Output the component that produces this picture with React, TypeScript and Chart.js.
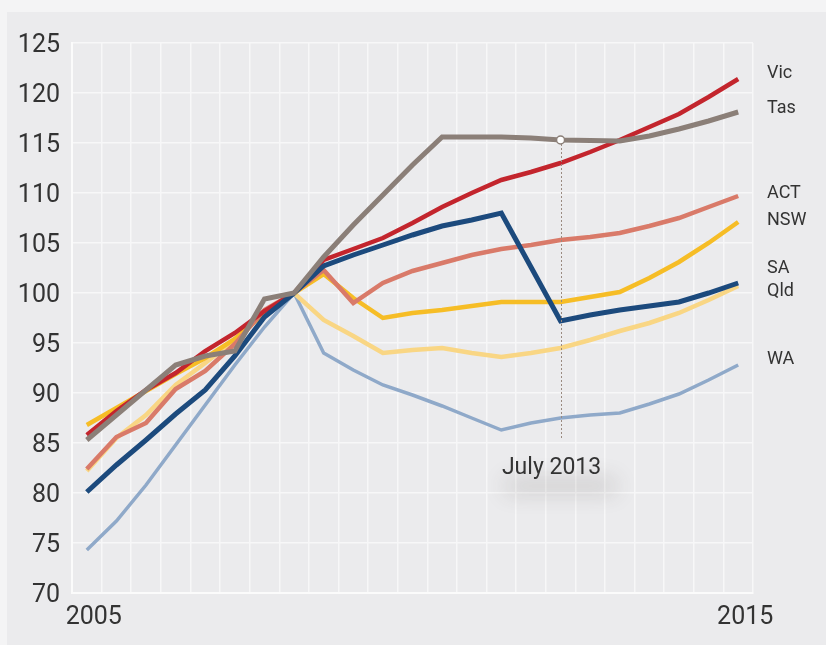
import React, { useEffect, useRef } from 'react';
import { Chart, registerables } from 'chart.js';

Chart.register(...registerables);

// 23 observation periods between 2005 and 2015 (index 16 = July 2013)
const periods = [
  '2005', '', '', '', '', '', '', '', '', '', '', '',
  '', '', '', '', 'July 2013', '', '', '', '', '', '2015',
];
const xTickLabels = ['2005', '2015'];
const yMin = 70;
const yMax = 125;
const yStep = 5;

const vic = [85.8, 88.2, 90.3, 92.0, 94.2, 96.0, 98.2, 100, 103.3, 104.4, 105.5, 107.0, 108.6, 110.0, 111.3, 112.1, 113.0, 114.1, 115.3, 116.6, 117.9, 119.6, 121.4];
const tas = [85.3, 87.8, 90.3, 92.8, 93.7, 94.2, 99.4, 100, 103.6, 106.8, 109.8, 112.8, 115.6, 115.6, 115.6, 115.5, 115.3, 115.25, 115.2, 115.7, 116.4, 117.2, 118.1];
const act = [82.4, 85.6, 87.0, 90.4, 92.2, 94.9, 98.3, 100, 102.3, 99.0, 101.0, 102.2, 103.0, 103.8, 104.4, 104.8, 105.3, 105.6, 106.0, 106.7, 107.5, 108.6, 109.7];
const nsw = [86.8, 88.5, 90.2, 91.9, 93.5, 95.4, 98.0, 100, 101.9, 99.5, 97.5, 98.0, 98.3, 98.7, 99.1, 99.1, 99.1, 99.6, 100.1, 101.5, 103.1, 105.0, 107.1];
const sa = [80.1, 82.8, 85.3, 87.9, 90.3, 93.7, 97.6, 100, 102.7, 103.8, 104.8, 105.8, 106.7, 107.3, 108.0, 102.6, 97.2, 97.8, 98.3, 98.7, 99.1, 100.0, 101.0];
const qld = [82.2, 85.5, 87.8, 90.8, 93.0, 95.3, 98.0, 100, 97.3, 95.7, 94.0, 94.3, 94.5, 94.0, 93.6, 94.0, 94.5, 95.3, 96.2, 97.0, 98.0, 99.3, 100.7];
const wa = [74.3, 77.2, 80.8, 84.8, 88.8, 92.8, 96.6, 100, 94.0, 92.3, 90.8, 89.8, 88.7, 87.5, 86.3, 87.0, 87.5, 87.8, 88.0, 88.9, 89.9, 91.3, 92.8];

const markerIndex = 16;
const markerLabel = 'July 2013';
const markerBottom = 85.3;

const FONT = 'Roboto, "Open Sans", sans-serif';

type S = { label: string; data: number[]; color: string; width: number; order: number; nudge: number };
const series: S[] = [
  { label: 'Vic', data: vic, color: '#c3252d', width: 4.5, order: 2, nudge: -6 },
  { label: 'Tas', data: tas, color: '#8b7f78', width: 5, order: 0, nudge: -4 },
  { label: 'ACT', data: act, color: '#d97a69', width: 4.5, order: 3, nudge: -3 },
  { label: 'NSW', data: nsw, color: '#f6bd26', width: 4.5, order: 4, nudge: -2 },
  { label: 'SA', data: sa, color: '#1c4a7d', width: 5, order: 1, nudge: -15 },
  { label: 'Qld', data: qld, color: '#f9d684', width: 4.5, order: 5, nudge: 5 },
  { label: 'WA', data: wa, color: '#8fa9c9', width: 3.5, order: 6, nudge: -6 },
];

const overlay = {
  id: 'overlay',
  afterDatasetsDraw(chart: any) {
    const { ctx, scales } = chart;
    const x = scales.x;
    const y = scales.y;
    ctx.save();
    // marker
    const mx = x.getPixelForValue(markerIndex);
    const my = y.getPixelForValue(tas[markerIndex]);
    const mb = y.getPixelForValue(markerBottom);
    ctx.strokeStyle = '#9a8a80';
    ctx.lineWidth = 1;
    ctx.setLineDash([2, 2]);
    ctx.beginPath();
    ctx.moveTo(Math.round(mx) + 0.5, my + 4);
    ctx.lineTo(Math.round(mx) + 0.5, mb);
    ctx.stroke();
    ctx.setLineDash([]);
    ctx.beginPath();
    ctx.arc(mx, my, 4, 0, Math.PI * 2);
    ctx.fillStyle = '#ffffff';
    ctx.fill();
    ctx.lineWidth = 1.5;
    ctx.strokeStyle = '#8b7f78';
    ctx.stroke();

    // label shadow
    const ly = mb + 28;
    ctx.save();
    ctx.shadowColor = 'rgba(70,60,55,0.22)';
    ctx.shadowBlur = 22;
    ctx.shadowOffsetX = 3000;
    ctx.shadowOffsetY = 0;
    ctx.fillStyle = '#000';
    ctx.fillRect(mx - 55 - 3000, ly + 12, 110, 12);
    ctx.restore();

    ctx.fillStyle = '#333333';
    ctx.font = `23px ${FONT}`;
    ctx.textAlign = 'center';
    ctx.textBaseline = 'middle';
    ctx.fillText(markerLabel, mx - 9, ly);

    // series labels
    ctx.font = `18px ${FONT}`;
    ctx.textAlign = 'left';
    ctx.fillStyle = '#333333';
    const lx = x.right + 14;
    series.forEach((s) => {
      const v = s.data[s.data.length - 1];
      ctx.fillText(s.label, lx, y.getPixelForValue(v) + s.nudge);
    });
    ctx.restore();
  },
};

export default function App() {
  const ref = useRef<HTMLCanvasElement | null>(null);
  useEffect(() => {
    if (!ref.current) return;
    const chart = new Chart(ref.current, {
      type: 'line',
      data: {
        labels: periods,
        datasets: series.map((s) => ({
          label: s.label,
          data: s.data,
          borderColor: s.color,
          backgroundColor: s.color,
          borderWidth: s.width,
          pointRadius: 0,
          tension: 0,
          fill: false,
          order: s.order,
          borderJoinStyle: 'miter' as const,
        })),
      },
      options: {
        animation: false,
        responsive: false,
        devicePixelRatio: 1,
        layout: { padding: { left: 0, top: 43, right: 73, bottom: 0 } },
        plugins: { legend: { display: false }, tooltip: { enabled: false } },
        scales: {
          x: {
            type: 'category',
            offset: true,
            afterFit: (s: any) => { s.height = 52; },
            grid: { offset: true, color: '#f7f7f8', lineWidth: 1.5, drawTicks: false },
            border: { display: true, color: '#fbfbfb', width: 2 },
            ticks: {
              autoSkip: false,
              maxRotation: 0,
              padding: 10,
              color: '#333333',
              font: { family: FONT, size: 25 },
              labelOffset: (c: any) => (c.index === 0 ? 13 : 7),
              callback: (_v: any, i: number) => (xTickLabels.includes(periods[i]) ? periods[i] : ''),
            },
          },
          y: {
            min: yMin,
            max: yMax,
            afterFit: (s: any) => { s.width = 72; },
            grid: { color: '#f7f7f8', lineWidth: 1.5, drawTicks: false },
            border: { display: true, color: '#fbfbfb', width: 2 },
            ticks: {
              stepSize: yStep,
              padding: 12,
              labelOffset: 3,
              color: '#333333',
              font: { family: FONT, size: 25 },
            },
          },
        },
      },
      plugins: [overlay],
    });
    return () => chart.destroy();
  }, []);

  return (
    <div style={{ position: 'absolute', left: 0, top: 0, width: 826, height: 645, background: '#f4f4f5', overflow: 'hidden' }}>
      <div style={{ position: 'absolute', left: 7, top: 12, right: 0, bottom: 0, background: '#ebebed' }} />
      <canvas ref={ref} width={826} height={645} style={{ position: 'absolute', left: 0, top: 0, width: 826, height: 645 }} />
    </div>
  );
}
